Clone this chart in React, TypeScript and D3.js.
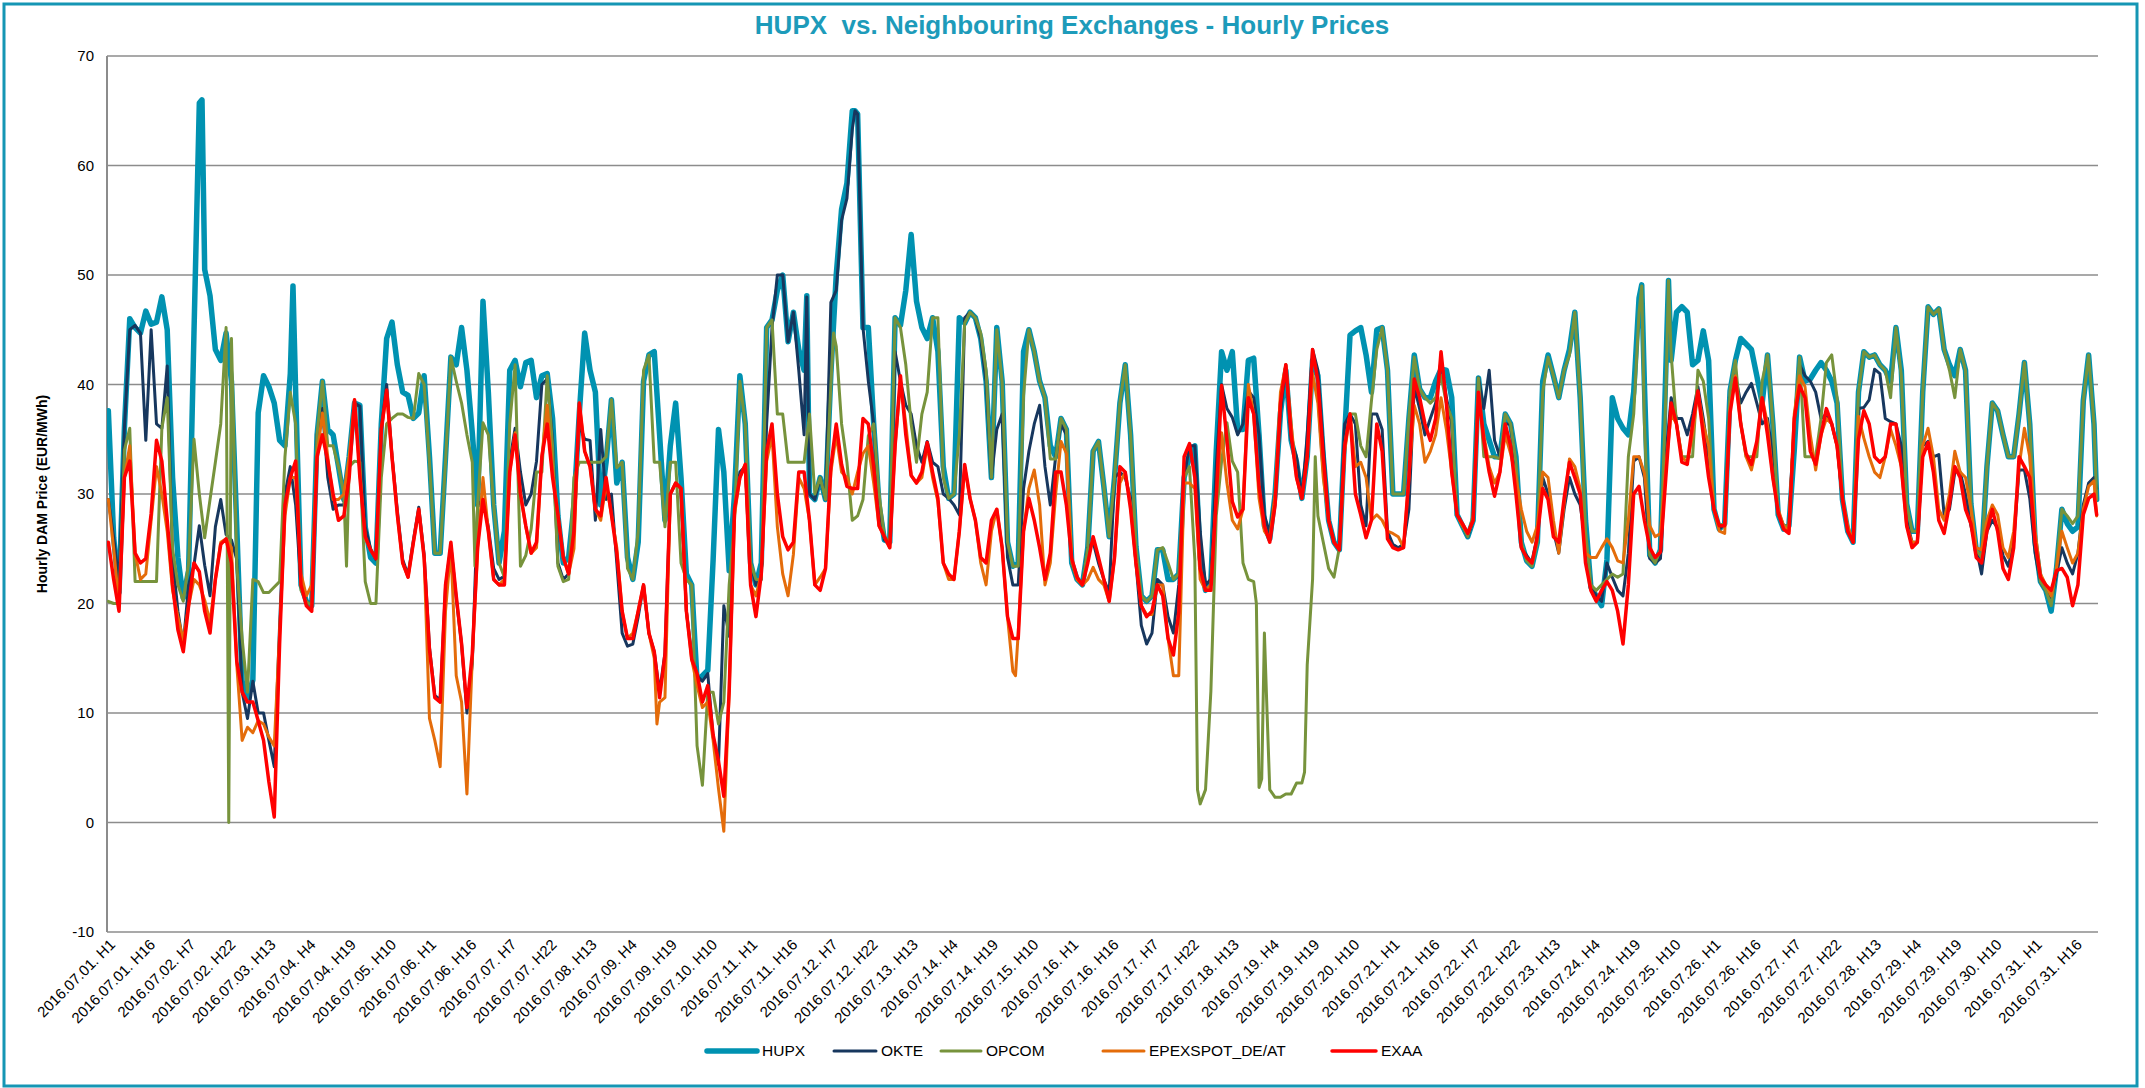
import React from "react";
import * as d3 from "d3";

// ---------- DATA (values read every 2 hours: H1,H3,...,H23 of each day) ----------
const monthDays = ["01","02","03","04","05","06","07","08","09","10","11","12","13","14","15","16","17","18","19","20","21","22","23","24","25","26","27","28","29","30","31"];
const seriesNames = ["HUPX", "OKTE", "OPCOM", "EPEXSPOT_DE/AT", "EXAA"];
const yTicks = [-10, 0, 10, 20, 30, 40, 50, 60, 70];

const hupx = [
  37.6, 26, 21, 36, 46, 45.2, 44.7, 46.7, 45.5, 45.7, 48, 45,
  31.5, 24.2, 20.5, 23, 44.7, 65.7, 50.5, 48.1, 43.2, 42.2, 44.7, 40.3,
  27, 12.9, 11.4, 13, 37.4, 40.8, 39.8, 38.3, 34.9, 34.4, 41, 39.3,
  21.7, 20.2, 19.8, 35.4, 40.3, 35.9, 35.4, 32.5, 29.5, 33.4, 38.3, 38.1,
  27, 24.2, 23.7, 36.4, 44.2, 45.7, 41.8, 39.3, 39, 36.9, 37.4, 40.8,
  33.4, 24.6, 24.6, 33.4, 42.5, 41.8, 45.2, 41.3, 35.6, 29, 47.6, 39.3,
  29, 23.7, 26.6, 41.3, 42.2, 39.8, 42, 42.2, 38.8, 40.8, 41, 36.9,
  28, 23.7, 24.2, 29, 37.4, 44.7, 41.3, 39.3, 29, 32.9, 38.6, 31,
  32.9, 24.2, 22.2, 25.6, 40.3, 42.7, 43, 35.4, 27.6, 34.4, 38.3, 31.5,
  22.7, 21.7, 12.9, 13.4, 13.9, 24, 35.9, 32, 23, 30, 40.8, 36.4,
  23.7, 21.7, 23.7, 45.2, 45.9, 48.6, 50, 43.9, 46.6, 43.2, 41.3, 30,
  29.5, 31.5, 29.5, 41, 50, 56, 58.4, 65, 64.7, 45.2, 45.2, 36.4,
  29, 25.8, 25.6, 46.1, 45.4, 48.6, 53.7, 47.6, 45.2, 44.2, 46.1, 43,
  32.5, 29.6, 30, 46.1, 45.6, 46.6, 46.1, 44.2, 40.3, 31.5, 45.2, 40.3,
  25.6, 23.4, 23.7, 43, 45, 43, 40.3, 38.8, 34.4, 33.4, 36.9, 35.9,
  23.7, 22.2, 21.7, 25.1, 33.9, 34.8, 30.7, 26.1, 31.5, 38.3, 41.8, 35.4,
  25.2, 20.7, 20.2, 20.7, 24.9, 24.9, 22.2, 22.2, 22.7, 31.5, 33.4, 34.4,
  24.2, 21.2, 22, 33.9, 43, 41.3, 43, 35.9, 35.9, 42.2, 42.4, 35.4,
  27.1, 25.9, 30, 37.4, 41.3, 34.9, 32.9, 29.6, 33.4, 42.2, 40.8, 33.4,
  27.6, 25.6, 24.9, 35.4, 44.5, 44.9, 45.2, 42.7, 39.3, 45, 45.2, 41.3,
  30, 30, 30, 36.9, 42.7, 39.6, 38.8, 38.8, 40.3, 41.4, 41.3, 38.8,
  28.1, 27.1, 26.1, 27.6, 40.6, 36.4, 34.9, 33.4, 33.4, 37.3, 36.4, 33.4,
  25.6, 23.9, 23.4, 25.6, 40.3, 42.7, 40.8, 38.8, 41.3, 43.2, 46.6, 38.8,
  27.6, 21.5, 20.7, 19.8, 24, 38.8, 36.9, 36, 35.4, 39.3, 47.9, 40,
  24.4, 23.7, 24.9, 41.3, 42.2, 46.6, 47.1, 46.6, 41.8, 42.2, 44.9, 42.2,
  28.6, 26.8, 27.3, 39.4, 42.2, 44.2, 43.7, 43.2, 40.8, 38.3, 42.7, 36.4,
  28.1, 26.8, 27.1, 34, 42.5, 40.3, 40.5, 41.3, 42, 41.3, 40.3, 38.3,
  29.5, 26.6, 25.6, 39.3, 43, 42.5, 42.7, 41.8, 41.3, 40.3, 45.2, 41.3,
  29.1, 26.6, 26.6, 39.3, 47.1, 46.4, 46.9, 43.2, 41.8, 40.8, 43.2, 41.3,
  29.1, 24.9, 24.2, 32.5, 38.3, 37.6, 35.4, 33.4, 33.4, 37.3, 42, 36.4,
  25.6, 22, 21.2, 19.3, 23.2, 28.6, 27.3, 26.6, 27, 38.5, 42.7, 36.4,
];
const hupxExtra: [number, number][] = [[35, 66], [69, 49], [261, 48.1], [279, 65], [573, 49.1], [583, 49.5], [743, 29.5]];

const okte = [
  29.5, 26, 22, 36, 45, 45.4, 44.7, 34.9, 45, 36.4, 36, 41.7,
  24.2, 19.3, 16.2, 21.7, 23.5, 27.1, 23.5, 20.7, 27, 29.5, 26.3, 25.8,
  24, 11.9, 9.5, 12.9, 10, 10, 7.5, 5.1, 18, 30, 32.5, 29,
  21.5, 20.2, 19.8, 35.4, 37.8, 31.5, 28.6, 29, 29, 32.5, 38.3, 38,
  27, 25, 24, 36, 40, 33.5, 28.5, 24, 22.6, 25.8, 28.8, 24.5,
  16, 11.6, 11.2, 21.5, 25.3, 20.5, 16.3, 10, 14.5, 29, 29.5, 27,
  23.2, 22.2, 22.5, 33, 36, 32, 29, 30, 33, 40, 40.5, 35,
  23.7, 22.2, 22.7, 29, 36.4, 35, 34.9, 27.6, 35.9, 29.5, 30, 23.7,
  17.3, 16.1, 16.3, 18.8, 21.7, 17.3, 15.6, 11.9, 15.5, 30, 31, 30.5,
  19.3, 15.4, 13.4, 12.9, 13.6, 7.8, 5.3, 19.8, 17, 28.6, 32, 32.5,
  23.7, 21.7, 22.2, 36.4, 45.2, 50, 50, 43.9, 46.6, 41.3, 35.4, 30,
  29.5, 31.5, 29.5, 47.5, 48.6, 55, 57, 63.3, 64.7, 45.2, 40.3, 36.4,
  29, 25.8, 25.6, 43, 40.3, 38.1, 37.3, 34.4, 32.9, 34.8, 32.9, 32.5,
  30, 29.6, 29, 28.1, 46.1, 46.6, 46.1, 44.2, 40.3, 31.5, 35.9, 37.3,
  24.2, 21.7, 21.7, 30.5, 33.9, 36.4, 38.1, 32.5, 29, 33.4, 36.4, 35.4,
  23.7, 22.2, 21.7, 25.1, 25.6, 23.7, 22.2, 21, 31.5, 32, 31.5, 29.6,
  23.7, 18, 16.3, 17.3, 22.2, 21.7, 18.8, 17.3, 21.7, 31.5, 34.4, 34.4,
  26.6, 21.7, 22.2, 32.5, 40, 37.8, 37, 35.4, 36.4, 39.4, 38.8, 35.4,
  28.1, 26.4, 30, 37.4, 41.8, 34.9, 33.4, 29.6, 35.4, 43.2, 41.3, 34.4,
  27.6, 25.6, 24.9, 36.4, 37.3, 36.4, 29, 27.1, 37.3, 37.3, 35.9, 26.6,
  25.4, 25.1, 25.4, 28.6, 39.8, 37.8, 35.4, 36.9, 38.3, 42.3, 38.8, 36.4,
  28.1, 27.1, 26.1, 27.6, 40.6, 37.8, 41.3, 34.9, 33.4, 36.4, 36.4, 32.5,
  25.1, 24.4, 23.7, 26.1, 31.5, 30, 26.6, 24.6, 28.6, 31.5, 30, 29,
  25.6, 21.7, 20.7, 20.2, 23.7, 22.4, 21.2, 20.7, 24.6, 33, 33.4, 31.5,
  24.1, 23.7, 24.1, 33.4, 38.8, 36.9, 36.9, 35.4, 37.3, 39.8, 36.9, 33.4,
  28.6, 26.8, 27.3, 38.8, 40.8, 38.3, 39.3, 40.1, 38.3, 36.4, 36.9, 33.4,
  28.1, 27.1, 27.1, 36.4, 41.8, 40.8, 40.3, 39.3, 36.9, 37.3, 36.4, 34.4,
  29.5, 26.6, 25.6, 37.8, 37.9, 38.6, 41.4, 41, 36.9, 36.6, 36.4, 34.4,
  27.6, 25.6, 25.6, 34.4, 34.8, 33.4, 33.6, 28.1, 28.6, 32, 32, 30,
  27.1, 25.1, 22.7, 26.6, 27.6, 26.9, 24.4, 23.4, 25.6, 32.2, 32.2, 29.6,
  24.6, 22, 21.2, 20.2, 22.7, 25.1, 23.7, 22.7, 24.6, 29, 31, 31.5,
];
const okteExtra: [number, number][] = [[261, 48], [279, 65], [743, 30.5]];

const opcom = [
  20.2, 20, 20, 34, 36, 22, 22, 22, 22, 22, 36, 38.8,
  25, 21.7, 20.2, 23.7, 35, 30, 26, 29.5, 32.9, 36.4, 45.2, 44.2,
  23.5, 16.8, 11.9, 22.2, 22, 21, 21, 21.5, 22, 33.4, 39.3, 36.4,
  21.2, 20.2, 19.8, 35.4, 40.3, 34.4, 34.4, 32.5, 30, 32.5, 33, 32.9,
  22, 20, 20, 31.5, 36.4, 36.9, 37.3, 37.3, 37, 36.9, 41, 40,
  32.9, 24.6, 24.6, 32.9, 42.5, 40.3, 38.3, 35.4, 32.9, 29, 36.5, 35.4,
  29, 23.7, 22.4, 36.4, 41.8, 23.4, 24.4, 26.8, 32, 32, 40.8, 34.4,
  23.4, 22, 22.2, 31.5, 32.9, 32.9, 32.9, 32.9, 32.9, 33.4, 38.6, 32.4,
  32.9, 23.2, 22.2, 26.6, 41.3, 42.7, 32.9, 32.9, 27, 32.9, 32.9, 23.7,
  22.2, 21.7, 7, 3.4, 11.9, 11.9, 9, 11, 21.7, 27.6, 40.3, 36.4,
  23.7, 22.2, 22.2, 45.2, 45.9, 37.3, 37.3, 32.9, 32.9, 32.9, 32.9, 37.3,
  30, 31.5, 29.5, 40, 43.5, 36.4, 32.9, 27.6, 28, 29.5, 35.3, 36.4,
  30, 26.1, 25.6, 46.1, 45.2, 41.8, 36.4, 32.9, 37.3, 39.3, 46.1, 46.1,
  31.5, 29.6, 30, 35.4, 45.6, 46.6, 46.1, 44.7, 41.3, 31.5, 45, 40.2,
  25.6, 23.4, 23.4, 39, 45, 43, 40.3, 38.8, 33.2, 33.2, 36.9, 35.9,
  23.7, 22.2, 21.7, 25.1, 33.9, 34.8, 30.7, 26.1, 31.5, 38.3, 41.8, 35.4,
  25.2, 20.7, 20.2, 20.7, 24.9, 25.1, 23.7, 22.2, 22.7, 31.5, 32.5, 24,
  1.7, 3, 12, 28, 33, 36.5, 33, 32, 23.7, 22.2, 22, 3.2,
  17.3, 3, 2.3, 2.3, 2.6, 2.6, 3.6, 3.6, 14.4, 22.2, 28, 25.6,
  23.2, 22.4, 25.1, 34.5, 37.3, 37.3, 34.4, 33.4, 38.5, 43.2, 45.2, 41.3,
  30, 30, 30, 36.9, 42.5, 39.6, 38.8, 38.3, 38.8, 40.8, 38.3, 36.9,
  28.1, 27.1, 26.1, 28.1, 40.6, 33.4, 33.4, 33.4, 33.2, 37.3, 36.4, 32.9,
  25.6, 23.9, 23.4, 25.6, 39.3, 42.5, 40.8, 38.8, 41.3, 42.7, 46.6, 38.8,
  26.6, 21.7, 21.2, 21.7, 22.2, 22.7, 22.4, 22.7, 33.4, 37.3, 46.6, 36.4,
  24.4, 23.7, 24.9, 38.8, 42.7, 36.4, 33.4, 33.4, 33.4, 41.3, 40.3, 36.9,
  28.6, 27.1, 27.3, 39.4, 42.2, 36.5, 33.4, 33.4, 33.4, 40.3, 42.7, 36.4,
  28.1, 27.1, 27.1, 36.4, 42.5, 33.4, 33.4, 33.4, 36.9, 42, 42.7, 38.8,
  29.5, 26.6, 25.6, 39.3, 43, 42.5, 42.7, 41.8, 41.3, 38.8, 45.2, 40.8,
  29.1, 26.6, 26.6, 39.3, 47.1, 46.4, 46.9, 43.2, 41.3, 38.8, 43.2, 41.3,
  29.1, 24.9, 24.2, 32.5, 38.3, 37.6, 35.4, 33.4, 33.4, 37.3, 42, 36.4,
  25.6, 22, 21.2, 19.8, 23.5, 28.6, 28, 27.3, 28, 38.5, 42.7, 36.4,
];
const opcomExtra: [number, number][] = [[45, 0], [89, 23.4], [137, 23.4], [271, 44.7], [407, 3], [429, 20], [431, 4], [433, 10], [447, 4.6], [451, 33.4], [573, 49], [583, 49.5], [743, 29.5]];

const epex = [
  29.5, 25, 19.8, 31.5, 34.4, 24.6, 22.2, 22.7, 27.6, 32.5, 30, 26.6,
  21.2, 18.8, 16.6, 19.8, 22.2, 21.7, 20.3, 18.3, 22.2, 25.6, 25.9, 25.1,
  14.4, 7.5, 8.7, 8.2, 9.3, 9, 7.8, 7, 17.3, 28, 31.5, 31.5,
  22.7, 20.7, 21.7, 33.5, 37.4, 33.4, 29.5, 29.5, 30, 33.4, 38.6, 32,
  26, 24.9, 24.1, 35.9, 39.3, 33.4, 28.1, 23.7, 22.4, 25.6, 28.6, 24.2,
  9.5, 7.5, 5.1, 19.3, 25.1, 13.4, 11, 2.6, 15, 25, 31.5, 26.6,
  22.2, 21.7, 22.2, 32, 35.6, 30, 27, 24.6, 25.1, 33.4, 38.1, 32.2,
  28.1, 24.2, 22.7, 25, 38.3, 33.9, 32.5, 28.6, 27.6, 31, 28.1, 25.1,
  19.3, 16.8, 17.3, 19.3, 21.7, 17.3, 15, 11, 11.4, 30, 31, 30.5,
  19.3, 14.9, 12.5, 10.5, 11, 7.5, 3.1, -0.8, 12, 28.1, 31.5, 32.7,
  21.7, 20.7, 22.7, 33, 35.4, 27, 22.7, 20.7, 24.5, 31.5, 30.5, 27.6,
  21.7, 22.4, 23.2, 32, 35.4, 32, 31.5, 30, 32, 33.7, 34.4, 31,
  27.1, 26.1, 25.1, 34.4, 40.3, 36.4, 31.7, 31, 31.5, 34.4, 31.5, 29.3,
  23.7, 22.2, 22.2, 26.6, 32.5, 29.6, 27.6, 23.7, 21.7, 26.6, 28.6, 25.1,
  18.8, 13.8, 17.3, 26.6, 30.5, 32.2, 29, 21.7, 23.7, 30, 34.8, 33.7,
  24.1, 22.2, 21.7, 22.2, 23.3, 22.2, 21.7, 20.2, 24.2, 31, 32, 29,
  23.7, 19.8, 19, 19, 21.7, 21.7, 16.8, 13.4, 13.4, 31, 31, 30.5,
  22.2, 21.2, 21.7, 29.6, 35.6, 31, 27.6, 26.8, 28.6, 40, 37.3, 29.6,
  26.6, 25.9, 30, 39.3, 41.8, 36.4, 31.5, 29.6, 33.4, 41, 38.3, 31.5,
  27.6, 25.6, 24.9, 33.9, 37.3, 32.5, 32.9, 31.5, 27.6, 28.1, 27.6, 26.6,
  26.4, 26.1, 25.1, 31.5, 38.1, 36.4, 32.9, 33.9, 35.4, 38.8, 35.9, 32,
  28.1, 27.1, 26.4, 27.6, 38.8, 35.4, 32.5, 31, 32, 35.4, 33.7, 31.5,
  28.6, 26.6, 25.6, 27.1, 32, 31.5, 27.6, 24.6, 29.1, 33.2, 32.5, 30.5,
  24.6, 24.2, 24.2, 25.1, 25.9, 25.1, 23.9, 23.7, 27.6, 33.4, 33.4, 31.9,
  27.1, 26.1, 26.4, 32.5, 37.3, 36.4, 33.4, 32.9, 35.4, 39.3, 36.4, 34.4,
  28.6, 26.6, 26.4, 37.8, 40.8, 36.4, 33.4, 32.2, 34.4, 38.8, 36.4, 31.5,
  28.6, 27.1, 26.6, 37.3, 40.8, 39.8, 35.4, 32.2, 35.4, 36.9, 36.4, 34.4,
  29.6, 27.1, 25.6, 37.1, 35.1, 33.4, 32, 31.5, 33.4, 35.9, 34.4, 32.5,
  27.1, 25.6, 25.6, 34.4, 36, 33.4, 28.6, 27.6, 30, 33.9, 32, 31.5,
  28.6, 25.1, 24.9, 27.6, 29, 28.1, 25.1, 24.2, 26.6, 32.5, 36, 33.4,
  26.6, 22.7, 21.7, 20.7, 23.2, 26.6, 25.1, 23.7, 24.6, 28.6, 30.7, 31.2,
];
const epexExtra: [number, number][] = [[205, 9], [339, 13.4], [743, 28]];

const exaa = [
  25.6, 22.2, 19.3, 31.5, 33, 24.6, 23.7, 24.1, 28.2, 34.9, 33, 27.6,
  21.7, 17.6, 15.6, 19.8, 23.7, 22.9, 19.3, 17.3, 22.2, 25.4, 25.9, 23.7,
  14.7, 11.9, 11, 11, 9.3, 7.5, 3.7, 0.5, 16.3, 29, 31.5, 33,
  21.7, 19.8, 19.3, 33.4, 35.4, 33, 30, 27.6, 28, 31.5, 38.6, 31.5,
  26.1, 24.9, 24.1, 35.9, 39.5, 33.4, 28.1, 23.7, 22.4, 25.6, 28.6, 24.2,
  15.8, 11.4, 11, 21.7, 25.6, 20.7, 16.3, 10.5, 15.4, 25.1, 29.5, 26.6,
  22.2, 21.7, 21.7, 32, 35.4, 30, 27.1, 24.6, 25.6, 33.4, 36.4, 31.5,
  28.1, 24.2, 22.7, 26.6, 38.3, 33.9, 32.5, 28.6, 28, 31.5, 28.1, 24.6,
  19.3, 16.8, 16.8, 19.3, 21.7, 17.3, 15.6, 11.4, 15.3, 30, 31, 30.5,
  19.3, 14.9, 13.6, 11, 12.5, 8, 5.6, 2.4, 12, 28.6, 31.5, 32.7,
  21.7, 18.8, 22.7, 33.9, 36.4, 30, 26.1, 24.9, 25.6, 32, 32, 27.6,
  21.7, 21.2, 23.2, 32.5, 36.4, 32.7, 30.7, 30.5, 30.5, 36.9, 36.4, 32.5,
  27.1, 26.1, 25.1, 34.4, 40.8, 35.4, 31.7, 31, 32, 34.7, 32, 29.6,
  23.7, 22.7, 22.2, 26.6, 32.7, 29.6, 27.6, 24.2, 23.7, 27.6, 28.6, 25.1,
  18.8, 16.8, 16.8, 26.6, 29.6, 27.6, 25.1, 22.2, 24.6, 32, 32, 29,
  24.1, 22.4, 21.7, 23.7, 26.1, 24.2, 22.2, 20.2, 24.2, 32.5, 32, 28.6,
  23.7, 19.8, 18.8, 19.3, 21.7, 20.7, 16.8, 15.3, 19.2, 33.4, 34.6, 31.5,
  23.2, 21.2, 21.2, 29.6, 39.9, 34.9, 29.3, 27.9, 28.6, 38.8, 37.3, 30.7,
  27.1, 25.6, 29, 38.3, 41.8, 35.4, 31.5, 29.6, 33.4, 43.2, 40.3, 33.4,
  27.6, 25.6, 24.9, 34.4, 37.3, 30, 28.1, 26, 27.6, 36.4, 33.9, 25.9,
  25.1, 24.9, 25.1, 31.5, 40.5, 38.8, 36.4, 34.9, 36.9, 43, 38.3, 32,
  28.1, 27.3, 26.4, 27.6, 39.3, 34.9, 32, 29.8, 32, 36.4, 34.4, 30,
  25.1, 24.2, 23.7, 26.1, 30.5, 29.5, 26.1, 25.6, 29.6, 32.9, 31.5, 30,
  23.7, 21.2, 20.2, 21.2, 22, 21.2, 19.3, 16.3, 21.7, 30, 30.7, 27.6,
  25.1, 24.2, 24.7, 31.5, 38.3, 36.4, 32.9, 32.7, 36.4, 39.4, 35.4, 31.5,
  28.6, 27.1, 27.1, 37.4, 40.6, 36.4, 33.7, 32.7, 34.8, 38.8, 35.4, 31.5,
  28.3, 26.8, 26.4, 36.9, 39.9, 38.8, 33.9, 32.7, 35.4, 37.8, 36.4, 34.4,
  29.6, 26.6, 25.6, 35, 37.6, 36.4, 33.4, 32.9, 33.4, 36.4, 36.4, 32.5,
  27.1, 25.1, 25.6, 33.4, 34.7, 32, 27.6, 26.4, 29.1, 32.5, 31.5, 28.6,
  27.3, 24.2, 23.7, 26.6, 28.6, 26.6, 23.2, 22.2, 25.1, 33.4, 32.5, 31.5,
  25.6, 22.4, 21.7, 21.2, 23, 23.2, 22.4, 19.8, 21.7, 28.1, 29.6, 30,
];
const exaaExtra: [number, number][] = [[743, 28.1]];

// ---------- STYLE ----------
const colors = ["#0092B1", "#17375E", "#77933C", "#E46C0A", "#FF0000"];
const widths = [5.5, 3, 3, 3, 3.5];
const FONT = "'Liberation Sans', Arial, Helvetica, sans-serif";

function buildSeries(grid: number[], extra: [number, number][]): [number, number][] {
  const pts: [number, number][] = grid.map((v, k) => [k * 2, v] as [number, number]);
  return pts.concat(extra).sort((a, b) => a[0] - b[0]);
}

export default function App() {
  const W = 2145, H = 1088;
  const L = 107, R = 2098, T = 56, B = 932;
  const nHours = monthDays.length * 24;
  const x = d3.scaleLinear().domain([-0.5, nHours - 0.5]).range([L, R]);
  const y = d3.scaleLinear().domain([-10, 70]).range([B, T]);

  const data = [
    buildSeries(hupx, hupxExtra),
    buildSeries(okte, okteExtra),
    buildSeries(opcom, opcomExtra),
    buildSeries(epex, epexExtra),
    buildSeries(exaa, exaaExtra),
  ];
  const line = d3.line<[number, number]>().x(d => x(d[0])).y(d => y(d[1]));

  const labelIdx = d3.range(0, nHours, 15);
  const labelText = (i: number) => `2016.07.${monthDays[Math.floor(i / 24)]}. H${(i % 24) + 1}`;

  const legendX = [707, 834, 941, 1103, 1332];
  const legendLen = [50, 42, 40, 41, 44];
  const legendY = 1051;

  return (
    <svg width={W} height={H} style={{ position: "absolute", left: 0, top: 0, background: "#fff" }} fontFamily={FONT}>
      <rect x={4} y={4} width={2133} height={1082} fill="#fff" stroke="#1596B4" strokeWidth={3} />
      <text x={1072} y={34} textAnchor="middle" fontSize={26} fontWeight="bold" fill="#1D9BBA">
        HUPX{"\u00A0\u00A0"}vs. Neighbouring Exchanges - Hourly Prices
      </text>
      {yTicks.map(t => (
        <g key={t}>
          <line x1={L} x2={R} y1={y(t)} y2={y(t)} stroke="#8c8c8c" strokeWidth={1.6} />
          <text x={94} y={y(t)} dy="0.35em" textAnchor="end" fontSize={15} fill="#000">{t}</text>
        </g>
      ))}
      <line x1={L} x2={L} y1={T} y2={B} stroke="#8c8c8c" strokeWidth={2} />
      <text transform={`translate(42,${(T + B) / 2}) rotate(-90)`} textAnchor="middle" fontSize={14} fontWeight="bold" dy="0.35em">
        Hourly DAM Price (EUR/MWh)
      </text>
      <defs>
        <clipPath id="plotclip"><rect x={L} y={T - 10} width={R - L + 4} height={B - T + 20} /></clipPath>
      </defs>
      <g clipPath="url(#plotclip)">
        {data.map((d, k) => (
          <path key={k} d={line(d) || ""} fill="none" stroke={colors[k]} strokeWidth={widths[k]} strokeLinejoin="round" strokeLinecap="round" />
        ))}
      </g>
      {labelIdx.map(i => (
        <text key={i} transform={`translate(${x(i) + 4},${B + 10}) rotate(-45)`} textAnchor="end" fontSize={15} dy="0.35em">
          {labelText(i)}
        </text>
      ))}
      {seriesNames.map((s, k) => (
        <g key={s}>
          <line x1={legendX[k]} x2={legendX[k] + legendLen[k]} y1={legendY} y2={legendY} stroke={colors[k]} strokeWidth={widths[k]} strokeLinecap="round" />
          <text x={legendX[k] + legendLen[k] + 5} y={legendY} dy="0.35em" fontSize={15.5}>{s}</text>
        </g>
      ))}
    </svg>
  );
}
